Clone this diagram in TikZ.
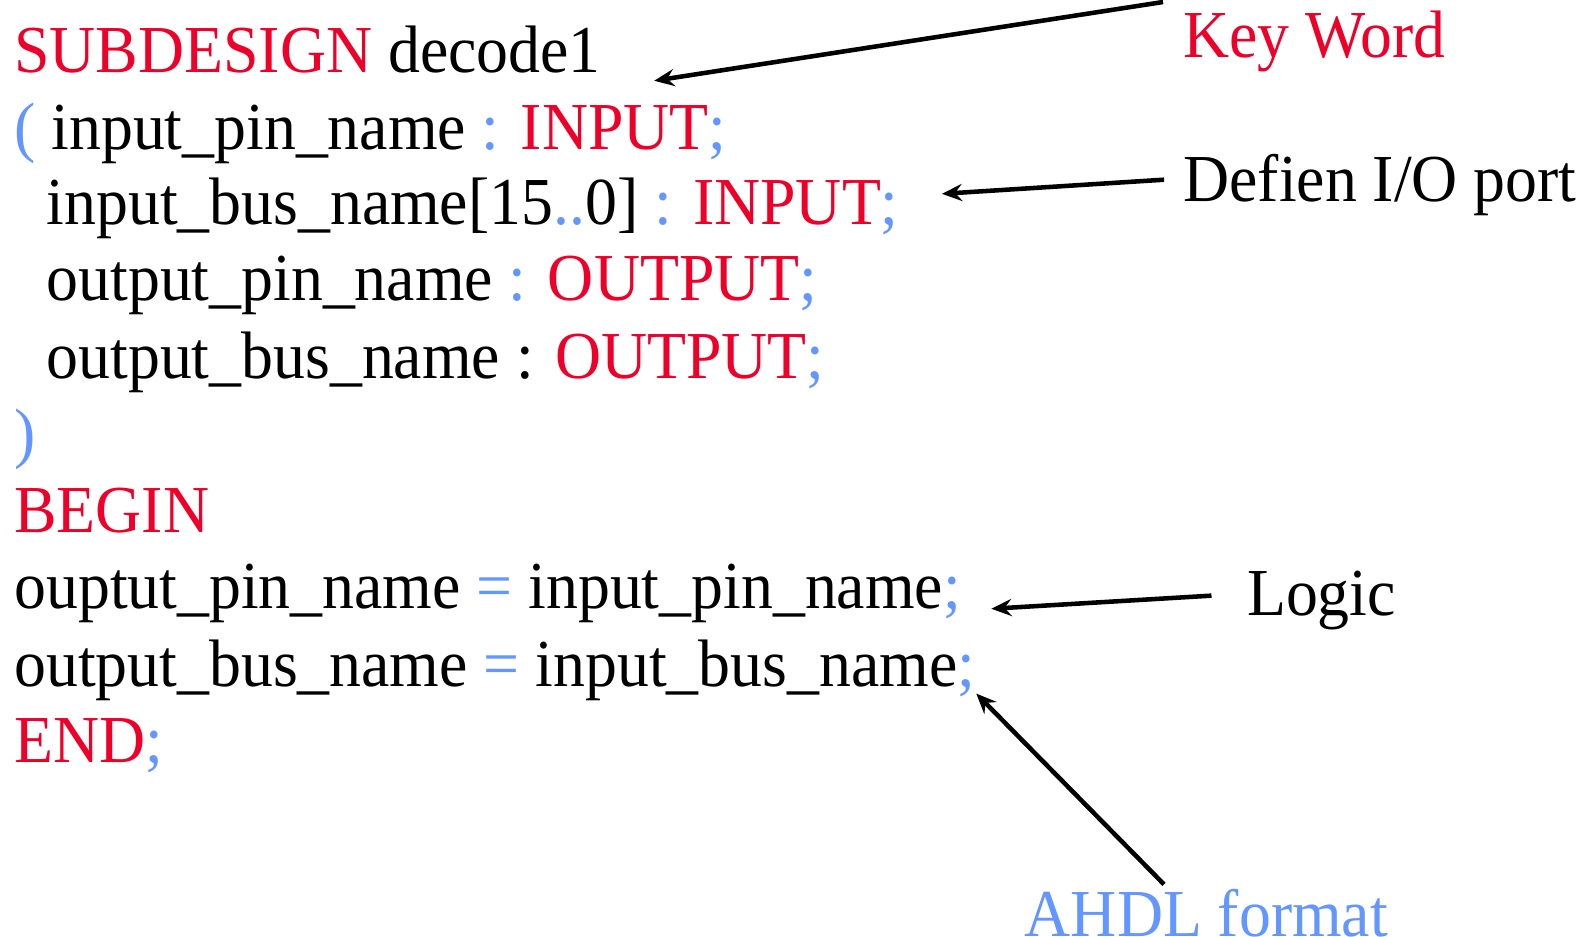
\documentclass[tikz,border=0pt]{standalone}
\usepackage{fontspec}
\setmainfont{Liberation Serif}[FakeStretch=0.95]
\usetikzlibrary{arrows.meta}
\definecolor{kw}{RGB}{238,0,40}
\definecolor{sym}{RGB}{100,150,255}
\newcommand{\KW}[1]{\textcolor{kw}{#1}}
\newcommand{\SY}[1]{\textcolor{sym}{#1}}
\begin{document}
\begin{tikzpicture}[x=1pt,y=-1pt,
  code/.style={anchor=base west,inner sep=0pt,font=\fontsize{66.5}{80}\selectfont},
  arr/.style={line width=4.5pt,-{Stealth[length=20pt,width=17pt,inset=7pt]}}]
\useasboundingbox (0,0) rectangle (1568,928);
% code lines
\node[code] (l1) at (14,72) {\KW{SUBDESIGN} decode1};
\node[code] (l2) at (14,148) {\SY{(} input\_pin\_name \SY{:} \KW{INPUT}\SY{;}};
\node[code] (l3) at (46,222) {input\_bus\_name[15\SY{..}0] \SY{:} \KW{INPUT}\SY{;}};
\node[code] (l4) at (46,298) {output\_pin\_name \SY{:} \KW{OUTPUT}\SY{;}};
\node[code] (l5) at (46,375) {output\_bus\_name : \KW{OUTPUT}\SY{;}};
\node[code] (l6) at (14,451) {\SY{)}};
\node[code] (l7) at (14,527) {\KW{BEGIN}};
\node[code] (l8) at (14,603) {ouptut\_pin\_name \SY{=} input\_pin\_name\SY{;}};
\node[code] (l9) at (14,680) {output\_bus\_name \SY{=} input\_bus\_name\SY{;}};
\node[code] (l10) at (14,755) {\KW{END}\SY{;}};
% labels
\node[code] (kw) at (1172,57) {\KW{Key Word}};
\node[code] (io) at (1172,200) {Defien I/O port};
\node[code] (lg) at (1235,610) {Logic};
\node[code] (ah) at (1015,928) {\SY{AHDL format}};
% arrow ends
\coordinate (kwS) at (1152,2);
\coordinate (kwE) at (648,80);
\coordinate (ioS) at (1153,178);
\coordinate (ioE) at (933,192);
\coordinate (lgS) at (1200,590);
\coordinate (lgE) at (982,603);
\coordinate (ahS) at (1153,876);
\coordinate (ahE) at (967,687);
\draw[arr] (kwS) -- (kwE);
\draw[arr] (ioS) -- (ioE);
\draw[arr] (lgS) -- (lgE);
\draw[arr] (ahS) -- (ahE);
\end{tikzpicture}
\end{document}
